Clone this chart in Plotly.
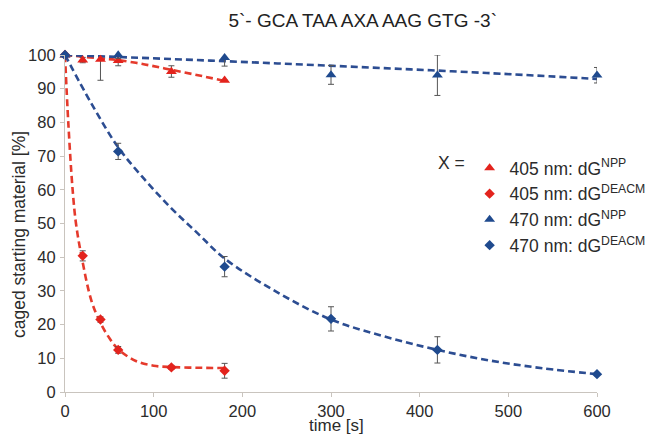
import plotly.graph_objects as go

# ---- measured data ----
t_405_npp = [0, 20, 40, 60, 120, 180]
v_405_npp = [100, 98.5, 98.7, 98.3, 95.1, 92.5]
e_405_npp = [0, 0.8, 6.2, 1.5, 1.7, 0]

t_405_deacm = [0, 20, 40, 60, 120, 180]
v_405_deacm = [100, 40.4, 21.5, 12.5, 7.3, 6.3]
e_405_deacm = [0, 1.5, 0.8, 1.0, 0.6, 2.2]

t_470_npp = [0, 60, 180, 300, 420, 600]
v_470_npp = [100, 100.0, 99.2, 94.1, 94.0, 94.0]
e_470_npp = [0, 1.0, 2.5, 2.8, 6.0, 2.3]

t_470_deacm = [0, 60, 180, 300, 420, 600]
v_470_deacm = [100, 71.4, 37.2, 21.7, 12.5, 5.3]
e_470_deacm = [0, 2.4, 3.0, 3.6, 3.9, 0.5]

# fitted curves
fit_t_405_npp = [0, 40, 60, 90, 120, 150, 180]
fit_v_405_npp = [100, 99.0, 98.5, 97.2, 95.6, 94.0, 92.3]

fit_t_405_deacm = [0, 3.7, 8.6, 12.4, 18.8, 30, 40, 50, 60, 80, 100, 120, 150, 180]
fit_v_405_deacm = [100, 80, 60, 50, 40, 26.9, 20.5, 16.0, 12.7, 9.2, 7.8, 7.4, 7.2, 7.1]

fit_t_470_npp = [0, 120, 240, 360, 480, 600]
fit_v_470_npp = [100, 98.8, 97.5, 96.1, 94.6, 92.9]

fit_t_470_deacm = [0, 30, 60, 90, 120, 150, 180, 240, 300, 360, 420, 480, 540, 600]
fit_v_470_deacm = [100, 85.5, 72.6, 63, 54.5, 47, 39.6, 29.5, 21.5, 16.5, 12.5, 9.3, 7.0, 5.3]

x_ticks = [0, 100, 200, 300, 400, 500, 600]
y_ticks = [0, 10, 20, 30, 40, 50, 60, 70, 80, 90, 100]

RED = "#e3231d"
RED_L = "#e53a2c"
BLUE = "#1f4a8e"
BLUE_L = "#2c4d92"
ERR = "#555555"
TXT = "#2b2b2b"
FONT = "Liberation Sans, Arial, sans-serif"

# plot-area geometry in pixels
L, R, T, B = 65, 597.5, 55, 392
PW, PH = R - L, B - T

def px(xp):
    return (xp - L) / PW

def py(yp):
    return (B - yp) / PH

fig = go.Figure()

def fit(tx, vy, color):
    fig.add_trace(go.Scatter(x=tx, y=vy, mode="lines", showlegend=False,
                             line=dict(color=color, width=2.6, dash="7px,4px", shape="spline"),
                             hoverinfo="skip", cliponaxis=False))

fit(fit_t_405_npp, fit_v_405_npp, RED_L)
fit(fit_t_405_deacm, fit_v_405_deacm, RED_L)
fit(fit_t_470_npp, fit_v_470_npp, BLUE_L)
fit(fit_t_470_deacm, fit_v_470_deacm, BLUE_L)

def pts(tx, vy, ey, color, symbol, size, name):
    fig.add_trace(go.Scatter(x=tx, y=vy, mode="markers", name=name,
                             marker=dict(color=color, symbol=symbol, size=size),
                             error_y=dict(type="data", array=ey, visible=True,
                                          color=ERR, thickness=1, width=3),
                             cliponaxis=False))

pts(t_405_npp, v_405_npp, e_405_npp, RED, "triangle-up", 9.5, "405 nm: dG<sup>NPP</sup>")
pts(t_405_deacm, v_405_deacm, e_405_deacm, RED, "diamond", 8, "405 nm: dG<sup>DEACM</sup>")
pts(t_470_npp, v_470_npp, e_470_npp, BLUE, "triangle-up", 9.5, "470 nm: dG<sup>NPP</sup>")
pts(t_470_deacm, v_470_deacm, e_470_deacm, BLUE, "diamond", 8, "470 nm: dG<sup>DEACM</sup>")

axis_font = dict(family=FONT, size=16.5, color=TXT)

fig.update_layout(
    width=656, height=435,
    margin=dict(l=L, r=656 - R, t=T, b=435 - B, autoexpand=False),
    plot_bgcolor="white", paper_bgcolor="white",
    font=axis_font,
    title=dict(text="5`- GCA TAA AXA AAG GTG -3`", x=px(363), xanchor="center",
               y=1 - 20 / 435, yanchor="middle", xref="paper", yref="container",
               font=dict(family=FONT, size=19, color="#222222")),
    xaxis=dict(range=[0, 600], tickvals=x_ticks, showgrid=False, zeroline=False,
               showline=True, linecolor="#c9c4be", linewidth=1.2, automargin=False,
               ticks="outside", ticklen=4, tickcolor="#c9c4be", ticklabelstandoff=0),
    yaxis=dict(range=[0, 100], tickvals=y_ticks, showgrid=False, zeroline=False,
               showline=True, linecolor="#c9c4be", linewidth=1.2, automargin=False,
               ticks="outside", ticklen=4, tickcolor="#c9c4be", ticklabelstandoff=1),
    showlegend=True,
    legend=dict(x=px(470), y=py(150), xanchor="left", yanchor="top",
                bgcolor="rgba(0,0,0,0)", tracegroupgap=0,
                font=dict(family=FONT, size=17.5, color=TXT)),
    annotations=[
        dict(text="X =", x=px(452), y=py(163), xref="paper", yref="paper", showarrow=False,
             xanchor="center", yanchor="middle",
             font=dict(family=FONT, size=17.5, color=TXT)),
        dict(text="caged starting material [%]", x=px(19), y=py(235), xref="paper", yref="paper",
             textangle=-90, showarrow=False, xanchor="center", yanchor="middle",
             font=dict(family=FONT, size=17.5, color=TXT)),
        dict(text="time [s]", x=px(337), y=py(425.5), xref="paper", yref="paper",
             showarrow=False, xanchor="center", yanchor="middle",
             font=dict(family=FONT, size=17, color=TXT)),
    ],
)

fig.write_html("out.html", config={"displayModeBar": False},
               post_script="document.body.style.margin='0';")
